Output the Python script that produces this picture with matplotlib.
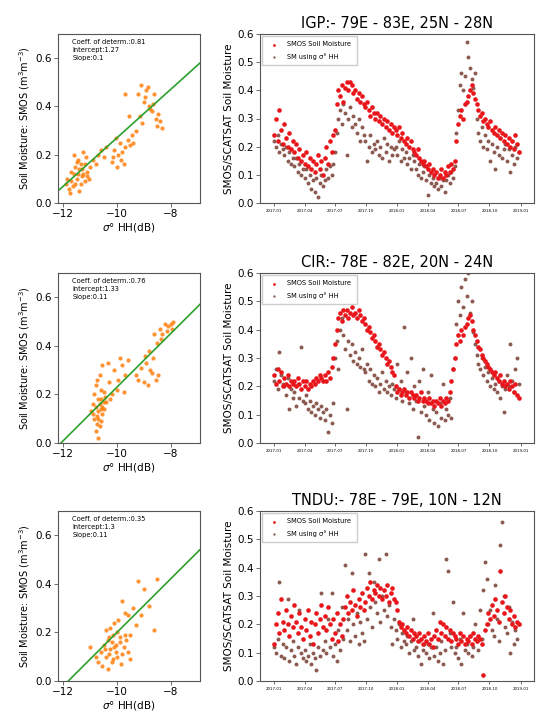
import numpy as np
import pandas as pd
import matplotlib
matplotlib.use("Agg")
import matplotlib.pyplot as plt
import matplotlib.dates as mdates

# ---- regression panels (sigma0 HH vs SMOS) ----
regions = ["IGP:- 79E - 83E, 25N - 28N", "CIR:- 78E - 82E, 20N - 24N", "TNDU:- 78E - 79E, 10N - 12N"]
r2_vals = [0.81, 0.76, 0.35]
intercepts = [1.27, 1.33, 1.3]
slopes = [0.1, 0.11, 0.11]

igp_sig = [-11.8, -11.7, -11.6, -11.5, -11.4, -11.3, -11.2, -11.1, -11.0, -11.75, -11.65, -11.55,
           -11.45, -11.35, -11.25, -11.15, -11.05, -11.6, -11.4, -11.2, -11.7, -11.5, -11.3, -11.1,
           -11.45, -11.35, -11.55, -11.25, -11.85, -11.9, -10.9, -10.8, -10.7, -10.6, -10.5, -10.4,
           -10.2, -10.1, -10.0, -9.95, -9.9, -9.85, -9.8, -10.05, -9.75, -9.7, -9.6, -9.5, -9.4, -9.3,
           -9.45, -9.55, -10.15, -9.7,
           -9.2, -9.1, -9.0, -8.9, -8.8, -8.7, -8.6, -8.5, -9.15, -8.95, -8.75, -8.65, -8.55, -8.85,
           -9.05, -8.45, -8.3, -8.4]
igp_sm = [0.06, 0.09, 0.12, 0.10, 0.14, 0.11, 0.16, 0.13, 0.15, 0.04, 0.07, 0.15,
          0.18, 0.08, 0.12, 0.19, 0.10, 0.20, 0.05, 0.09, 0.13, 0.17, 0.14, 0.11,
          0.12, 0.16, 0.08, 0.21, 0.10, 0.08, 0.18, 0.16, 0.20, 0.22, 0.19, 0.23,
          0.17, 0.22, 0.15, 0.20, 0.25, 0.18, 0.21, 0.27, 0.16, 0.23, 0.26, 0.24, 0.25, 0.30,
          0.28, 0.36, 0.19, 0.45,
          0.45, 0.49, 0.42, 0.47, 0.40, 0.38, 0.45, 0.32, 0.36, 0.44, 0.39, 0.41, 0.35, 0.48,
          0.33, 0.37, 0.31, 0.34]

cir_sig = [-10.9, -10.8, -10.7, -10.6, -10.5, -10.85, -10.75, -10.65, -10.55, -10.45, -10.8, -10.7,
           -10.6, -10.5, -10.9, -10.75, -10.65, -10.55, -10.7, -10.6, -10.8, -10.5, -10.4, -10.95,
           -10.7, -10.6, -10.65, -10.75, -10.85, -10.55,
           -10.3, -10.2, -10.1, -10.0, -9.9, -9.8, -9.7, -9.6, -10.25, -9.95, -10.35, -9.75,
           -9.3, -9.2, -9.1, -9.0, -8.9, -8.8, -8.7, -8.6, -8.5, -8.4, -8.3, -8.2, -8.1, -8.0,
           -8.95, -8.75, -8.55, -8.35, -8.15, -8.85, -8.65, -8.45, -7.95, -7.9]
cir_sm = [0.12, 0.15, 0.10, 0.18, 0.14, 0.20, 0.08, 0.16, 0.12, 0.19, 0.05, 0.13,
          0.22, 0.17, 0.16, 0.11, 0.07, 0.15, 0.18, 0.09, 0.24, 0.21, 0.17, 0.13,
          0.02, 0.14, 0.28, 0.26, 0.10, 0.32,
          0.25, 0.20, 0.30, 0.22, 0.35, 0.32, 0.28, 0.34, 0.18, 0.26, 0.33, 0.21,
          0.28, 0.26, 0.31, 0.25, 0.33, 0.38, 0.29, 0.45, 0.41, 0.47, 0.45, 0.49, 0.48, 0.49,
          0.36, 0.30, 0.26, 0.43, 0.46, 0.24, 0.35, 0.28, 0.47, 0.50]

tndu_sig = [-10.6, -10.5, -10.4, -10.3, -10.2, -10.1, -10.0, -9.9, -9.8, -9.7, -10.55, -10.45,
            -10.35, -10.25, -10.15, -10.05, -9.95, -9.85, -9.75, -10.4, -10.3, -10.2, -10.1, -10.0,
            -9.9, -10.35, -10.25, -10.15, -10.05, -9.65, -9.6, -10.8, -11.0, -10.7, -9.5,
            -9.6, -9.4, -9.2, -9.0, -8.8, -8.5, -9.3, -9.1, -9.8, -9.5, -9.7, -8.6]
tndu_sm = [0.12, 0.15, 0.10, 0.18, 0.08, 0.14, 0.20, 0.16, 0.11, 0.19, 0.06, 0.13,
           0.17, 0.22, 0.09, 0.12, 0.25, 0.07, 0.14, 0.21, 0.11, 0.16, 0.24, 0.10,
           0.18, 0.05, 0.13, 0.19, 0.15, 0.17, 0.12, 0.10, 0.14, 0.08, 0.09,
           0.27, 0.30, 0.41, 0.38, 0.31, 0.42, 0.23, 0.27, 0.33, 0.19, 0.28, 0.21]

# ---- time series panels (values every 5 days from 2017-01-01) ----
igp_smos = [0.24, 0.30, 0.22, 0.33, 0.26, 0.21, 0.28, 0.23, 0.20, 0.25, 0.19, 0.22,
            0.18, 0.21, 0.16, 0.19, 0.15, 0.17, 0.14, 0.18, 0.13, 0.16, 0.12, 0.15,
            0.11, 0.14, 0.17, 0.12, 0.15, 0.10, 0.16, 0.20, 0.14, 0.22, 0.18, 0.24,
            0.26, 0.35, 0.40, 0.38, 0.42, 0.36, 0.41, 0.43, 0.40, 0.43, 0.42, 0.39,
            0.40, 0.37, 0.39, 0.36, 0.38, 0.35, 0.34, 0.36, 0.33, 0.31, 0.34, 0.32,
            0.30, 0.32, 0.29, 0.31, 0.28, 0.30, 0.27, 0.29, 0.26, 0.28, 0.25, 0.27,
            0.26, 0.24, 0.27, 0.23, 0.25, 0.22, 0.21, 0.23, 0.20, 0.22, 0.19, 0.18,
            0.17, 0.19, 0.16, 0.15, 0.14, 0.15, 0.13, 0.12, 0.14, 0.11, 0.12, 0.10,
            0.11, 0.09, 0.10, 0.12, 0.09, 0.11, 0.10, 0.13, 0.11, 0.14, 0.12, 0.15,
            0.22, 0.28, 0.31, 0.33, 0.30, 0.35, 0.36, 0.38, 0.40, 0.42, 0.39, 0.37,
            0.35, 0.33, 0.31, 0.32, 0.29, 0.30, 0.28, 0.27, 0.29, 0.26, 0.25, 0.27,
            0.24, 0.26, 0.23, 0.25, 0.22, 0.24, 0.21, 0.23, 0.20, 0.22, 0.19, 0.24, 0.21, 0.18]
igp_sar = [0.22, 0.20, 0.24, 0.18, 0.21, 0.19, 0.17, 0.20, 0.15, 0.18, 0.14, 0.16,
           0.13, 0.16, 0.11, 0.14, 0.10, 0.12, 0.09, 0.12, 0.07, 0.10, 0.05, 0.08,
           0.04, 0.09, 0.02, 0.07, 0.10, 0.06, 0.08, 0.12, 0.09, 0.13, 0.10, 0.14,
           0.18, 0.25, 0.30, 0.33, 0.28, 0.35, 0.32, 0.17, 0.30, 0.34, 0.27, 0.31,
           0.28, 0.25, 0.30, 0.22, 0.27, 0.24, 0.22, 0.15, 0.20, 0.24, 0.18, 0.21,
           0.19, 0.22, 0.17, 0.20, 0.16, 0.23, 0.18, 0.21, 0.15, 0.20, 0.17, 0.19,
           0.20, 0.17, 0.22, 0.15, 0.19, 0.16, 0.18, 0.14, 0.16, 0.12, 0.17, 0.15,
           0.12, 0.10, 0.14, 0.09, 0.11, 0.13, 0.08, 0.03, 0.10, 0.07, 0.09, 0.06,
           0.07, 0.05, 0.09, 0.06, 0.08, 0.04, 0.08, 0.10, 0.07, 0.11, 0.09, 0.13,
           0.25, 0.33, 0.42, 0.46, 0.40, 0.45, 0.57, 0.52, 0.48, 0.44, 0.41, 0.46,
           0.30, 0.25, 0.22, 0.27, 0.20, 0.24, 0.19, 0.22, 0.15, 0.21, 0.18, 0.12,
           0.20, 0.17, 0.23, 0.16, 0.19, 0.21, 0.15, 0.19, 0.11, 0.17, 0.14, 0.20, 0.16, 0.18]

cir_smos = [0.24, 0.21, 0.26, 0.22, 0.25, 0.20, 0.23, 0.21, 0.24, 0.20, 0.22, 0.21,
            0.22, 0.20, 0.23, 0.21, 0.19, 0.22, 0.20, 0.22, 0.19, 0.21, 0.20, 0.22,
            0.21, 0.23, 0.22, 0.24, 0.23, 0.22, 0.24, 0.22, 0.25, 0.23, 0.27, 0.30,
            0.35, 0.40, 0.44, 0.46, 0.43, 0.47, 0.45, 0.47, 0.44, 0.46, 0.48, 0.45,
            0.46, 0.44, 0.47, 0.45, 0.43, 0.44, 0.42, 0.40, 0.41, 0.39, 0.37, 0.38,
            0.36, 0.34, 0.35, 0.33, 0.31, 0.32, 0.30, 0.28, 0.29, 0.27, 0.25, 0.24,
            0.20, 0.18, 0.19, 0.17, 0.18, 0.19, 0.17, 0.18, 0.16, 0.18, 0.17, 0.16,
            0.17, 0.15, 0.16, 0.18, 0.15, 0.16, 0.15, 0.14, 0.16, 0.14, 0.15, 0.13,
            0.15, 0.14, 0.16, 0.13, 0.15, 0.14, 0.16, 0.15, 0.18, 0.22, 0.26, 0.30,
            0.35, 0.38, 0.36, 0.40, 0.38, 0.41, 0.42, 0.44, 0.45, 0.43, 0.40, 0.38,
            0.36, 0.34, 0.33, 0.31, 0.30, 0.29, 0.28, 0.27, 0.26, 0.25, 0.24, 0.25,
            0.23, 0.22, 0.24, 0.21, 0.22, 0.20, 0.21, 0.19, 0.22, 0.20, 0.18, 0.21, 0.17, 0.16]
cir_sar = [0.22, 0.26, 0.19, 0.32, 0.24, 0.21, 0.20, 0.17, 0.23, 0.12, 0.19, 0.16,
           0.18, 0.13, 0.21, 0.16, 0.34, 0.15, 0.14, 0.17, 0.12, 0.15, 0.11, 0.13,
           0.10, 0.14, 0.12, 0.09, 0.13, 0.11, 0.08, 0.12, 0.04, 0.10, 0.07, 0.14,
           0.30, 0.36, 0.26, 0.40, 0.44, 0.38, 0.33, 0.12, 0.36, 0.31, 0.35, 0.29,
           0.32, 0.28, 0.30, 0.27, 0.33, 0.26, 0.25, 0.28, 0.22, 0.26, 0.21, 0.24,
           0.20, 0.23, 0.18, 0.21, 0.25, 0.19, 0.22, 0.18, 0.20, 0.17, 0.21, 0.19,
           0.16, 0.28, 0.19, 0.22, 0.15, 0.41, 0.18, 0.25, 0.14, 0.30, 0.12, 0.20,
           0.15, 0.02, 0.22, 0.11, 0.26, 0.13, 0.10, 0.18, 0.08, 0.24, 0.12, 0.07,
           0.11, 0.06, 0.14, 0.09, 0.21, 0.08, 0.12, 0.10, 0.16, 0.09, 0.26, 0.30,
           0.42, 0.50, 0.45, 0.55, 0.48, 0.58, 0.52, 0.60, 0.46, 0.50, 0.39, 0.35,
           0.31, 0.28, 0.26, 0.30, 0.24, 0.27, 0.22, 0.25, 0.20, 0.23, 0.19, 0.21,
           0.18, 0.22, 0.16, 0.20, 0.11, 0.19, 0.24, 0.20, 0.35, 0.22, 0.18, 0.26, 0.30, 0.21]

tndu_smos = [0.13, 0.20, 0.24, 0.17, 0.29, 0.21, 0.18, 0.25, 0.20, 0.16, 0.23, 0.19,
             0.27, 0.21, 0.17, 0.24, 0.19, 0.15, 0.22, 0.18, 0.25, 0.16, 0.21, 0.13,
             0.20, 0.24, 0.17, 0.22, 0.27, 0.19, 0.23, 0.18, 0.26, 0.20, 0.15, 0.22,
             0.17, 0.24, 0.14, 0.20, 0.16, 0.22, 0.26, 0.30, 0.24, 0.28, 0.25, 0.32,
             0.27, 0.23, 0.29, 0.26, 0.31, 0.25, 0.28, 0.33, 0.30, 0.35, 0.29, 0.32,
             0.31, 0.34, 0.30, 0.33, 0.29, 0.32, 0.30, 0.34, 0.28, 0.31, 0.33, 0.29,
             0.28, 0.25, 0.21, 0.19, 0.20, 0.18, 0.17, 0.19, 0.16, 0.18, 0.15, 0.17,
             0.16, 0.14, 0.17, 0.15, 0.13, 0.16, 0.14, 0.17, 0.13, 0.15, 0.12, 0.16,
             0.18, 0.15, 0.21, 0.17, 0.20, 0.16, 0.19, 0.15, 0.18, 0.14, 0.17, 0.16,
             0.15, 0.13, 0.17, 0.14, 0.16, 0.13, 0.15, 0.14, 0.16, 0.13, 0.17, 0.15,
             0.14, 0.16, 0.15, 0.13, 0.02, 0.18, 0.20, 0.24, 0.22, 0.27, 0.23, 0.29,
             0.25, 0.21, 0.39, 0.28, 0.24, 0.30, 0.26, 0.22, 0.25, 0.20, 0.23, 0.19, 0.21, 0.20]
tndu_sar = [0.12, 0.10, 0.15, 0.35, 0.09, 0.13, 0.08, 0.12, 0.29, 0.07, 0.11, 0.14,
            0.09, 0.06, 0.12, 0.25, 0.10, 0.08, 0.11, 0.07, 0.09, 0.13, 0.06, 0.10,
            0.08, 0.04, 0.12, 0.09, 0.31, 0.11, 0.14, 0.10, 0.22, 0.12, 0.31, 0.09,
            0.13, 0.07, 0.18, 0.11, 0.26, 0.15, 0.41, 0.18, 0.22, 0.14, 0.38, 0.20,
            0.16, 0.24, 0.13, 0.21, 0.17, 0.14, 0.45, 0.22, 0.38, 0.26, 0.19, 0.35,
            0.28, 0.24, 0.43, 0.21, 0.30, 0.25, 0.45, 0.23, 0.27, 0.19, 0.13, 0.22,
            0.18, 0.15, 0.20, 0.12, 0.17, 0.14, 0.13, 0.16, 0.10, 0.14, 0.22, 0.11,
            0.12, 0.09, 0.14, 0.06, 0.11, 0.13, 0.10, 0.13, 0.08, 0.12, 0.24, 0.09,
            0.12, 0.07, 0.10, 0.14, 0.06, 0.11, 0.43, 0.39, 0.17, 0.12, 0.28, 0.10,
            0.12, 0.08, 0.15, 0.06, 0.24, 0.11, 0.13, 0.10, 0.16, 0.09, 0.12, 0.20,
            0.14, 0.11, 0.25, 0.15, 0.32, 0.42, 0.36, 0.20, 0.25, 0.18, 0.16, 0.34,
            0.22, 0.14, 0.48, 0.56, 0.30, 0.19, 0.17, 0.26, 0.10, 0.21, 0.13, 0.18, 0.15, 0.20]

sig_data = [(igp_sig, igp_sm), (cir_sig, cir_sm), (tndu_sig, tndu_sm)]
ts_data = [(igp_smos, igp_sar), (cir_smos, cir_sar), (tndu_smos, tndu_sar)]

W, H = 537, 717
fig = plt.figure(figsize=(W / 100, H / 100), dpi=100)

rows = [(34, 203), (273, 443), (511, 681)]  # top, bottom in pixels
spine_col = "#555555"

def px_axes(x0, x1, top, bot):
    return fig.add_axes([x0 / W, 1 - bot / H, (x1 - x0) / W, (bot - top) / H])

for i, (top, bot) in enumerate(rows):
    # left: scatter + fit
    ax = px_axes(58, 200, top, bot)
    sx, sy = sig_data[i]
    ax.scatter(sx, sy, s=9, color="#ff7f0e", alpha=0.85, linewidths=0)
    xl = np.array([-12.2, -6.9])
    ax.plot(xl, slopes[i] * xl + intercepts[i], color="#2ca02c", lw=1.2)
    ax.set_xlim(-12.2, -6.9)
    ax.set_ylim(0, 0.7)
    ax.set_xticks([-12, -10, -8])
    ax.set_yticks([0.0, 0.2, 0.4, 0.6])
    ax.tick_params(labelsize=7.5, length=3, width=0.6, color=spine_col, pad=1.5)
    ax.set_ylabel(r"Soil Moisture: SMOS (m$^3$m$^{-3}$)", fontsize=7, labelpad=2)
    ax.set_xlabel(r"$\sigma°$ HH(dB)", fontsize=7.5, labelpad=1)
    ax.text(0.1, 0.97, f"Coeff. of determ.:{r2_vals[i]}\nIntercept:{intercepts[i]}\nSlope:{slopes[i]}",
            transform=ax.transAxes, fontsize=4.8, va="top", ha="left", linespacing=1.35)
    for s in ax.spines.values():
        s.set_color(spine_col)
        s.set_linewidth(0.8)

    # right: time series
    ax2 = px_axes(260, 534, top, bot)
    smos, sar = ts_data[i]
    dates = pd.date_range("2017-01-01", periods=len(smos), freq="5D")
    ax2.scatter(dates, sar, s=8, color="#8c5a50", linewidths=0, label="SM using σ° HH", zorder=2)
    ax2.scatter(dates, smos, s=11, color="#e8161b", linewidths=0, label="SMOS Soil Moisture", zorder=3)
    h, l = ax2.get_legend_handles_labels()
    ax2.legend(h[::-1], l[::-1], loc="upper left", fontsize=4.8, markerscale=0.6,
               handletextpad=1.0, borderpad=0.8, labelspacing=0.9, framealpha=1,
               borderaxespad=0.3, edgecolor="#cccccc", fancybox=False)
    ax2.set_ylim(0, 0.6)
    ax2.set_yticks(np.arange(0, 0.61, 0.1))
    ax2.set_xlim(pd.Timestamp("2016-11-20"), pd.Timestamp("2019-02-10"))
    ax2.xaxis.set_major_locator(mdates.MonthLocator(bymonth=[1, 4, 7, 10]))
    ax2.xaxis.set_major_formatter(mdates.DateFormatter("%Y-%m"))
    ax2.tick_params(axis="x", labelsize=2.8, length=2, width=0.6, color=spine_col, pad=2)
    ax2.tick_params(axis="y", labelsize=7.5, length=3, width=0.6, color=spine_col, pad=1.5)
    ax2.set_ylabel("SMOS/SCATSAT Soil Moisture", fontsize=7.5, labelpad=2)
    ax2.set_title(regions[i], fontsize=10.5, pad=4)
    for s in ax2.spines.values():
        s.set_color(spine_col)
        s.set_linewidth(0.8)

fig.savefig("out.png", dpi=100)
